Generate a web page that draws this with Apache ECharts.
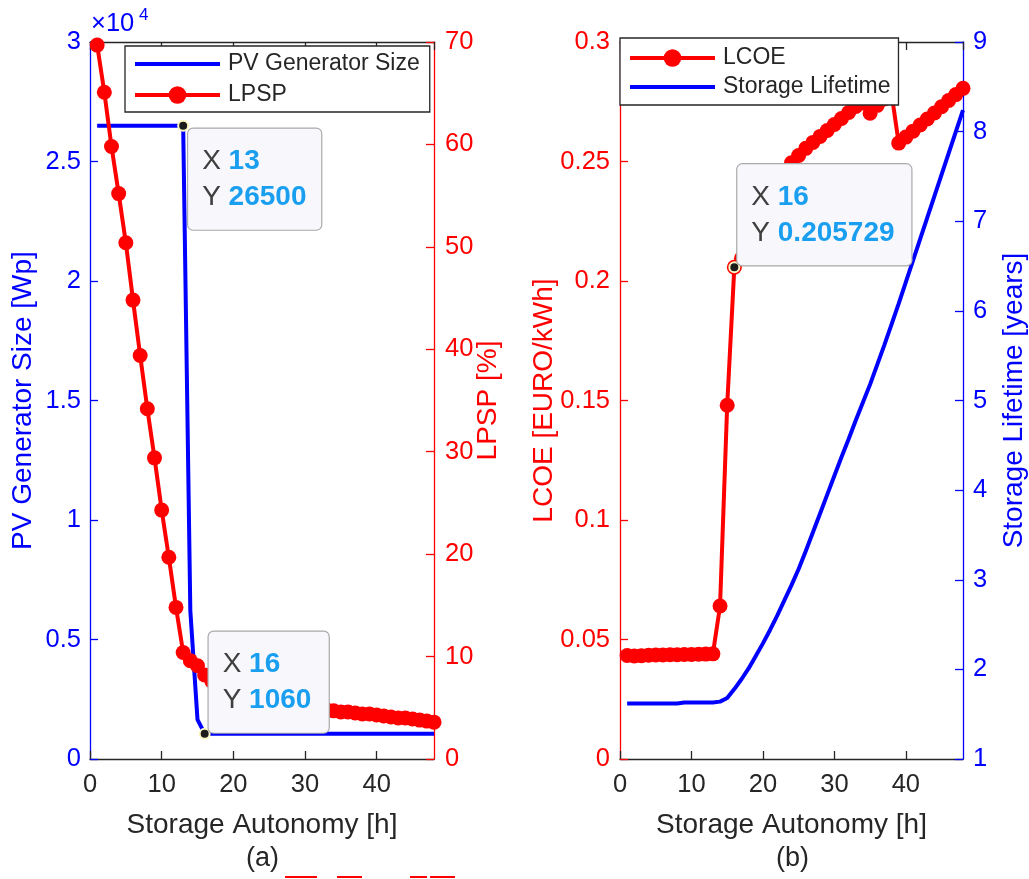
<!DOCTYPE html>
<html>
<head>
<meta charset="utf-8">
<title>PV sizing vs. storage autonomy</title>
<script src="https://cdn.jsdelivr.net/npm/echarts@6/dist/echarts.min.js"></script>
<style>
  html, body { margin: 0; padding: 0; background: #ffffff; }
  #chart { width: 1029px; height: 879px; }
</style>
</head>
<body>
<div id="chart"></div>
<script>
// ---- data ---------------------------------------------------------------
const autonomyHours = [
  1, 2, 3, 4, 5, 6, 7, 8, 9, 10, 11, 12, 13, 14, 15, 16,
  17, 18, 19, 20, 21, 22, 23, 24, 25, 26, 27, 28, 29, 30, 31, 32,
  33, 34, 35, 36, 37, 38, 39, 40, 41, 42, 43, 44, 45, 46, 47, 48
];

// (a) PV generator size [Wp]
const pvGeneratorWp = [
  26500, 26500, 26500, 26500, 26500, 26500, 26500, 26500, 26500, 26500, 26500, 26500, 26500, 6200, 1650, 1060,
  1060, 1060, 1060, 1060, 1060, 1060, 1060, 1060, 1060, 1060, 1060, 1060, 1060, 1060, 1060, 1060,
  1060, 1060, 1060, 1060, 1060, 1060, 1060, 1060, 1060, 1060, 1060, 1060, 1060, 1060, 1060, 1060
];

// (a) loss of power supply probability [%]
const lpspPercent = [
  69.7, 65.1, 59.8, 55.2, 50.4, 44.8, 39.4, 34.2, 29.4, 24.3, 19.7, 14.8, 10.4, 9.6, 9.1, 8.2,
  7.6, 7.1, 6.7, 6.4, 6.1, 5.9, 5.7, 5.5, 5.4, 5.3, 5.2, 5.1, 5.0, 4.95, 4.9, 4.85,
  4.8, 4.7, 4.6, 4.6, 4.5, 4.4, 4.4, 4.3, 4.2, 4.1, 4.0, 4.0, 3.9, 3.8, 3.7, 3.6
];

// (b) levelised cost of energy [EURO/kWh]
const lcoeEuroPerKWh = [
  0.0433, 0.0431, 0.0432, 0.0434, 0.0435, 0.0435, 0.0436, 0.0436, 0.0437, 0.0437, 0.0438, 0.0439, 0.0440, 0.064, 0.148, 0.205729,
  0.2095, 0.216, 0.2215, 0.227, 0.233, 0.2385, 0.244, 0.2495, 0.2525, 0.2555, 0.258, 0.2605, 0.263, 0.2655, 0.268, 0.2705,
  0.273, 0.2745, 0.2702, 0.2735, 0.2762, 0.2785, 0.2577, 0.2602, 0.2627, 0.2653, 0.2678, 0.2703, 0.2729, 0.2755, 0.2780, 0.2806
];

// (b) storage lifetime [years]
const storageLifetimeYears = [
  1.62, 1.62, 1.62, 1.62, 1.62, 1.62, 1.62, 1.62, 1.63, 1.63, 1.63, 1.63, 1.63, 1.64, 1.68, 1.78,
  1.89, 2.01, 2.15, 2.29, 2.44, 2.60, 2.77, 2.94, 3.12, 3.32, 3.53, 3.74, 3.95, 4.16, 4.37, 4.57,
  4.78, 4.98, 5.18, 5.40, 5.62, 5.85, 6.08, 6.32, 6.56, 6.80, 7.04, 7.28, 7.52, 7.76, 8.00, 8.24
];

// hours that carry a data tip
const pvTipHours = [13, 16];
const lcoeTipHours = [16];

// axis ranges
const pvAxis = { min: 0, max: 30000, interval: 5000 };
const lpspAxis = { min: 0, max: 70, interval: 10 };
const lcoeAxis = { min: 0, max: 0.3, interval: 0.05 };
const lifeAxis = { min: 1, max: 9, interval: 1 };
const hourAxis = { min: 0, max: 48, interval: 10 };

// ---- styling -----------------------------------------------------------
const FONT = "'Liberation Sans', Arial, Helvetica, sans-serif";
const DARK = '#262626';
const BLUE = '#0000ff';
const RED = '#ff0000';
const TIP_VALUE = '#1a9ff0';

const pairs = (xs, ys) => xs.map((x, i) => [x, ys[i]]);
const valueAt = (ys, h) => ys[autonomyHours.indexOf(h)];

function bottomAxis(gridIndex) {
  return {
    gridIndex, type: 'value', position: 'bottom',
    min: hourAxis.min, max: hourAxis.max, interval: hourAxis.interval,
    name: 'Storage Autonomy [h]', nameLocation: 'middle', nameGap: 52,
    nameMoveOverlap: false,
    nameTextStyle: { color: DARK, fontSize: 28, fontFamily: FONT },
    axisLine: { show: true, onZero: false, lineStyle: { color: DARK, width: 1.3 } },
    axisTick: { show: true, inside: true, length: 8, lineStyle: { color: DARK, width: 1.3 } },
    axisLabel: { color: DARK, fontSize: 25.5, fontFamily: FONT, margin: 13, showMaxLabel: false, hideOverlap: false },
    splitLine: { show: false }
  };
}
function topAxis(gridIndex) {
  return {
    gridIndex, type: 'value', position: 'top',
    min: hourAxis.min, max: hourAxis.max, interval: hourAxis.interval,
    axisLine: { show: true, onZero: false, lineStyle: { color: DARK, width: 1.3 } },
    axisTick: { show: true, inside: true, length: 8, lineStyle: { color: DARK, width: 1.3 } },
    axisLabel: { show: false },
    splitLine: { show: false }
  };
}
function sideAxis(gridIndex, position, range, color, name, nameGap, labelMargin, fmt) {
  return {
    gridIndex, type: 'value', position,
    min: range.min, max: range.max, interval: range.interval,
    name, nameLocation: 'middle', nameGap, nameRotate: 90,
    nameMoveOverlap: false,
    nameTextStyle: { color, fontSize: 28, fontFamily: FONT },
    axisLine: { show: true, onZero: false, lineStyle: { color, width: 1.3 } },
    axisTick: { show: true, inside: true, length: 8, lineStyle: { color, width: 1.3 } },
    axisLabel: { color, fontSize: 25.5, fontFamily: FONT, margin: labelMargin, formatter: fmt, hideOverlap: false },
    splitLine: { show: false }
  };
}

const tipRich = {
  k: { fontSize: 28, fontFamily: FONT, color: '#404040', lineHeight: 36 },
  v: { fontSize: 28, fontFamily: FONT, color: TIP_VALUE, fontWeight: 'bold', lineHeight: 36 }
};
function dataTip(h, y, yText, position, width) {
  return {
    coord: [h, y],
    label: {
      show: true,
      position,
      width,
      formatter: '{k|X\u00a0}{v|' + h + '}\n{k|Y\u00a0}{v|' + yText + '}',
      backgroundColor: '#f8f8fc',
      borderColor: '#a9a9a9',
      borderWidth: 1.2,
      borderRadius: 5,
      padding: [15, 10, 14, 14],
      rich: tipRich
    }
  };
}
const tipMarker = {
  symbol: 'circle',
  symbolSize: 10,
  itemStyle: { color: '#1c1c1c', borderColor: '#fbf7c4', borderWidth: 2 },
  animation: false
};

const pvTips = [
  dataTip(pvTipHours[0], valueAt(pvGeneratorWp, pvTipHours[0]), String(valueAt(pvGeneratorWp, pvTipHours[0])), [11, 9], 109),
  dataTip(pvTipHours[1], valueAt(pvGeneratorWp, pvTipHours[1]), String(valueAt(pvGeneratorWp, pvTipHours[1])), [10, -96], 96)
];
const lcoeTips = [
  dataTip(lcoeTipHours[0], valueAt(lcoeEuroPerKWh, lcoeTipHours[0]), String(valueAt(lcoeEuroPerKWh, lcoeTipHours[0])), [9, -97], 150)
];

const legendBase = {
  orient: 'vertical',
  backgroundColor: '#ffffff',
  borderColor: DARK,
  borderWidth: 1.3,
  borderRadius: 0,
  itemWidth: 85,
  itemHeight: 22,
  selectedMode: false,
  textStyle: { color: DARK, fontSize: 23, fontFamily: FONT, lineHeight: 28, padding: [0, 0, 0, 3] },
  lineStyle: { width: 4 }
};
// plain line entries carry no marker in the key
const lineOnly = name => ({ name, itemStyle: { opacity: 0 } });

const chart = echarts.init(document.getElementById('chart'), null, { renderer: 'canvas' });
chart.setOption({
  animation: false,
  backgroundColor: '#ffffff',
  grid: [
    { left: 90, top: 42, width: 344, height: 717, containLabel: false },
    { left: 620, top: 42, width: 343, height: 717, containLabel: false }
  ],
  xAxis: [bottomAxis(0), topAxis(0), bottomAxis(1), topAxis(1)],
  yAxis: [
    sideAxis(0, 'left', pvAxis, BLUE, 'PV Generator Size [Wp]', 53, 9, v => String(+(v / 10000).toFixed(2))),
    sideAxis(0, 'right', lpspAxis, RED, 'LPSP [%]', 40, 11, v => String(v)),
    sideAxis(1, 'left', lcoeAxis, RED, 'LCOE [EURO/kWh]', 62, 10, v => String(+v.toFixed(2))),
    sideAxis(1, 'right', lifeAxis, BLUE, 'Storage Lifetime [years]', 37, 10, v => String(v))
  ],
  legend: [
    Object.assign({}, legendBase, {
      left: 125, top: 46, itemGap: 3, padding: [4, 10, 3, 8],
      data: [lineOnly('PV Generator Size'), 'LPSP']
    }),
    Object.assign({}, legendBase, {
      left: 620, top: 38, itemGap: 1, padding: [6, 8, 4, 8],
      data: ['LCOE', lineOnly('Storage Lifetime')]
    })
  ],
  series: [
    {
      name: 'PV Generator Size', type: 'line', xAxisIndex: 0, yAxisIndex: 0,
      data: pairs(autonomyHours, pvGeneratorWp),
      symbol: 'none', clip: false,
      lineStyle: { color: BLUE, width: 4 }, itemStyle: { color: BLUE },
      markPoint: Object.assign({ data: pvTips }, tipMarker)
    },
    {
      name: 'LPSP', type: 'line', xAxisIndex: 0, yAxisIndex: 1,
      data: pairs(autonomyHours, lpspPercent),
      symbol: 'circle', symbolSize: 15, showAllSymbol: true, clip: false,
      lineStyle: { color: RED, width: 4 }, itemStyle: { color: RED }
    },
    {
      name: 'LCOE', type: 'line', xAxisIndex: 2, yAxisIndex: 2,
      data: pairs(autonomyHours, lcoeEuroPerKWh),
      symbol: 'circle', symbolSize: 15, showAllSymbol: true, clip: false,
      lineStyle: { color: RED, width: 4 }, itemStyle: { color: RED },
      markPoint: Object.assign({ data: lcoeTips }, tipMarker)
    },
    {
      name: 'Storage Lifetime', type: 'line', xAxisIndex: 2, yAxisIndex: 3,
      data: pairs(autonomyHours, storageLifetimeYears),
      symbol: 'none', clip: false,
      lineStyle: { color: BLUE, width: 4 }, itemStyle: { color: BLUE }
    }
  ],
  graphic: [
    { type: 'text', left: 91, top: 11, style: { text: '\u00d710', fill: BLUE, font: '25.5px ' + FONT } },
    { type: 'text', left: 139, top: 7, style: { text: '4', fill: BLUE, font: '17px ' + FONT } },
    { type: 'text', left: 246, top: 845, style: { text: '(a)', fill: DARK, font: '27px ' + FONT } },
    { type: 'text', left: 776, top: 845, style: { text: '(b)', fill: DARK, font: '27px ' + FONT } },
    { type: 'rect', shape: { x: 285, y: 876, width: 32, height: 2 }, style: { fill: RED } },
    { type: 'rect', shape: { x: 337, y: 876, width: 25, height: 2 }, style: { fill: RED } },
    { type: 'rect', shape: { x: 410, y: 876, width: 17, height: 2 }, style: { fill: RED } },
    { type: 'rect', shape: { x: 430, y: 876, width: 25, height: 2 }, style: { fill: RED } }
  ]
});
</script>
</body>
</html>
